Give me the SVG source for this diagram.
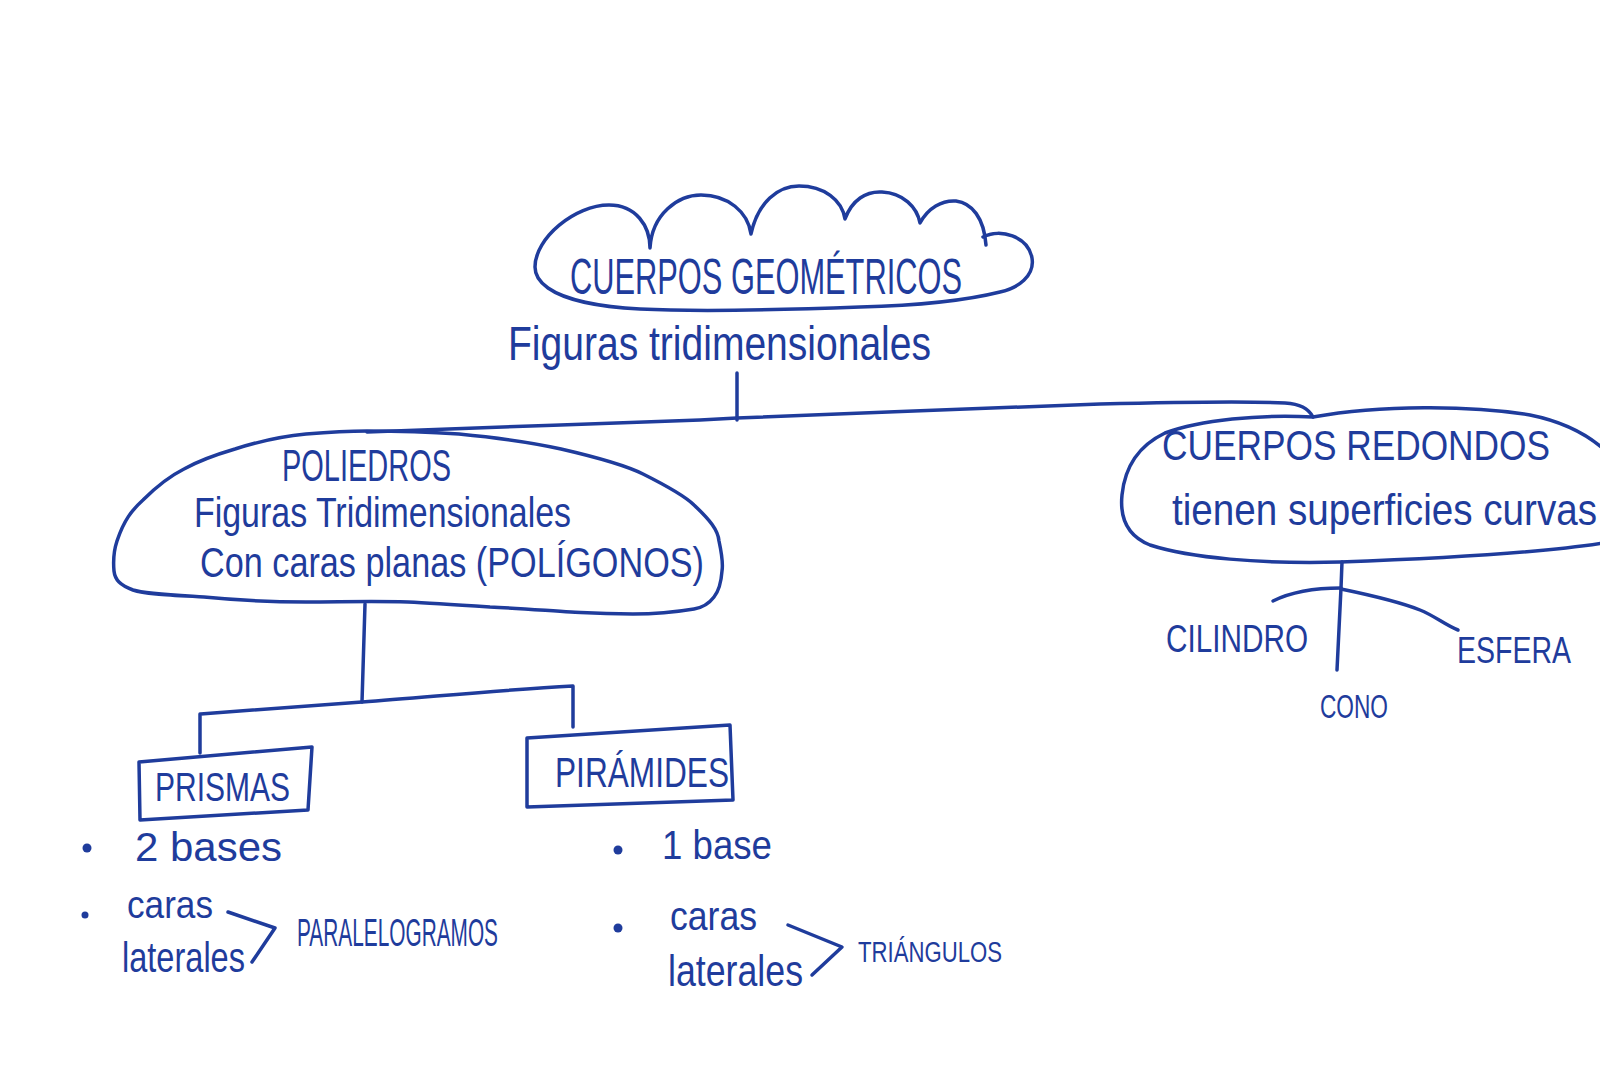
<svg xmlns="http://www.w3.org/2000/svg" width="1600" height="1084" viewBox="0 0 1600 1084">
<style>
.ink{fill:none;stroke:#1f3c9c;stroke-width:3.5;stroke-linecap:round;stroke-linejoin:round}
.t{font-family:"Liberation Sans","DejaVu Sans",Arial,sans-serif;fill:#1f3c9c}
.dot{fill:#1f3c9c}
</style>
<rect x="0" y="0" width="1600" height="1084" fill="#ffffff"/>
<g id="connectors">
<path class="ink" d="M737,373 L737,420"/>
<path class="ink" d="M367,432 C450,428 600,424 700,420 L737,418 C850,413 1000,408 1100,404 C1180,402 1250,401 1285,403 C1300,404 1308,408 1313,417"/>
<path class="ink" d="M365,604 L362,702"/>
<path class="ink" d="M200,753 L200,714 C260,710 320,705 362,702 C430,697 500,690 573,686 L573,727"/>
<path class="ink" d="M1342,562 L1341,588 L1337,670"/>
<path class="ink" d="M1341,588 C1320,588 1295,590 1273,601"/>
<path class="ink" d="M1341,589 C1370,595 1400,602 1420,610 C1435,616 1445,625 1458,630"/>
</g>
<g id="node-cuerpos-geometricos">
<path class="ink" d="M535,267 C535,238 575,205 609,205 C636,205 650,226 650,248 C652,214 678,195 701,195 C728,195 748,212 751,234 C758,202 778,186 799,186 C824,186 842,200 845,219 C852,200 866,191 882,192 C903,193 917,207 920,223 C928,208 942,200 956,201 C972,203 984,218 986,245 M983,237 C1000,228 1028,236 1032,258 C1035,276 1018,288 1000,292 C960,302 900,306 860,307 C780,310 700,312 640,309 C600,307 565,300 548,288 C538,281 535,274 535,267"/>
<text class="t" x="570" y="294" font-size="50" textLength="392" lengthAdjust="spacingAndGlyphs">CUERPOS GEOMÉTRICOS</text>
<text class="t" x="508" y="360" font-size="48" textLength="423" lengthAdjust="spacingAndGlyphs">Figuras tridimensionales</text>
</g>
<g id="node-poliedros">
<path class="ink" d="M367,431 C400,431 430,432 459,434 C500,438 530,442 561,449 C600,458 625,465 643,474 C665,485 684,495 694,505 C710,520 718,530 719,541 C722,555 723,565 722,571 C721,585 718,592 714,597 C708,605 700,608 694,609 C670,613 650,614 633,614 C600,614 590,613 571,612 C540,610 515,608 490,607 C460,605 430,603 408,602 C370,601 340,602 306,602 C270,602 235,600 204,597 C170,595 145,594 133,590 C120,585 115,580 114,571 C113,560 114,550 117,541 C124,520 132,510 143,500 C158,485 170,476 184,469 C200,460 218,454 235,449 C260,441 285,436 306,434 C330,432 350,431 367,431 Z"/>
<text class="t" x="282" y="481" font-size="44" textLength="169" lengthAdjust="spacingAndGlyphs">POLIEDROS</text>
<text class="t" x="194" y="527" font-size="43" textLength="377" lengthAdjust="spacingAndGlyphs">Figuras Tridimensionales</text>
<text class="t" x="200" y="577" font-size="42" textLength="504" lengthAdjust="spacingAndGlyphs">Con caras planas (POLÍGONOS)</text>
</g>
<g id="node-cuerpos-redondos">
<path class="ink" d="M1313,417 C1380,405 1470,405 1530,415 C1565,422 1590,435 1610,455 L1620,540 C1560,552 1450,558 1340,562 C1260,564 1190,558 1150,545 C1125,535 1120,515 1122,495 C1125,465 1140,445 1165,433 C1200,420 1260,414 1313,417 Z"/>
<text class="t" x="1162" y="460" font-size="42" textLength="388" lengthAdjust="spacingAndGlyphs">CUERPOS REDONDOS</text>
<text class="t" x="1172" y="525" font-size="44" textLength="425" lengthAdjust="spacingAndGlyphs">tienen superficies curvas</text>
</g>
<g id="node-cilindro">
<text class="t" x="1166" y="652" font-size="38" textLength="142" lengthAdjust="spacingAndGlyphs">CILINDRO</text>
</g>
<g id="node-cono">
<text class="t" x="1320" y="718" font-size="34" textLength="68" lengthAdjust="spacingAndGlyphs">CONO</text>
</g>
<g id="node-esfera">
<text class="t" x="1457" y="663" font-size="36" textLength="114" lengthAdjust="spacingAndGlyphs">ESFERA</text>
</g>
<g id="node-prismas">
<path class="ink" d="M139,762 L312,747 L308,810 L140,820 Z"/>
<text class="t" x="155" y="801" font-size="40" textLength="135" lengthAdjust="spacingAndGlyphs">PRISMAS</text>
<circle class="dot" cx="87" cy="848" r="4.5"/>
<text class="t" x="135" y="861" font-size="40" textLength="147" lengthAdjust="spacingAndGlyphs">2 bases</text>
<circle class="dot" cx="85" cy="915" r="3.5"/>
<text class="t" x="127" y="918" font-size="38" textLength="86" lengthAdjust="spacingAndGlyphs">caras</text>
<text class="t" x="122" y="972" font-size="42" textLength="123" lengthAdjust="spacingAndGlyphs">laterales</text>
<path class="ink" d="M228,912 L275,928 L252,962"/>
<text class="t" x="297" y="946" font-size="38" textLength="201" lengthAdjust="spacingAndGlyphs">PARALELOGRAMOS</text>
</g>
<g id="node-piramides">
<path class="ink" d="M527,738 L730,725 L733,800 L527,807 Z"/>
<text class="t" x="555" y="787" font-size="42" textLength="174" lengthAdjust="spacingAndGlyphs">PIRÁMIDES</text>
<circle class="dot" cx="618" cy="850" r="4.5"/>
<text class="t" x="662" y="859" font-size="40" textLength="110" lengthAdjust="spacingAndGlyphs">1 base</text>
<circle class="dot" cx="618" cy="928" r="4.5"/>
<text class="t" x="670" y="930" font-size="40" textLength="87" lengthAdjust="spacingAndGlyphs">caras</text>
<text class="t" x="668" y="986" font-size="44" textLength="135" lengthAdjust="spacingAndGlyphs">laterales</text>
<path class="ink" d="M788,925 L842,947 L812,975"/>
<text class="t" x="858" y="962" font-size="30" textLength="144" lengthAdjust="spacingAndGlyphs">TRIÁNGULOS</text>
</g>
</svg>
